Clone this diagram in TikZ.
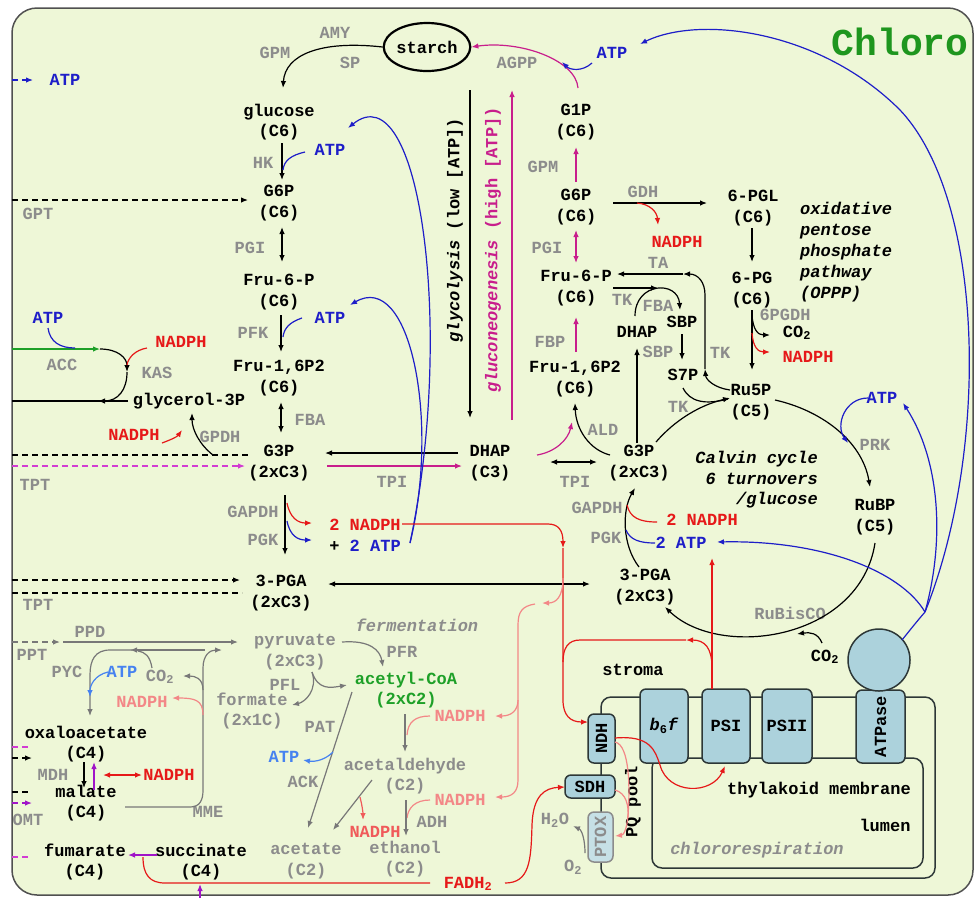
\documentclass[tikz,border=0pt]{standalone}
\usepackage{fontspec}
\setmainfont{Liberation Mono}
\usetikzlibrary{arrows.meta,shapes.geometric}
\definecolor{bg}{RGB}{238,247,215}
\definecolor{fr}{RGB}{80,80,80}
\definecolor{dk}{RGB}{45,55,55}
\definecolor{cb}{RGB}{172,210,220}
\definecolor{cbl}{RGB}{198,224,230}
\definecolor{gr}{RGB}{140,140,140}
\definecolor{gl}{RGB}{120,120,120}
\definecolor{rd}{RGB}{230,25,25}
\definecolor{pk}{RGB}{243,135,135}
\definecolor{pkr}{RGB}{240,90,90}
\definecolor{bl}{RGB}{30,30,200}
\definecolor{lb}{RGB}{70,130,240}
\definecolor{mg}{RGB}{200,30,140}
\definecolor{pur}{RGB}{160,20,200}
\definecolor{tm}{RGB}{210,60,210}
\definecolor{grn}{RGB}{30,160,40}
\definecolor{chg}{RGB}{30,150,30}
\newcommand\ff{\fontsize{17}{20.5}\selectfont\bfseries}
\begin{document}
\begin{tikzpicture}[x=1pt,y=-1pt,>={Latex[length=7pt,width=5.5pt]},
  m/.style={font=\ff, align=center, inner sep=0pt},
  e/.style={font=\ff, text=gr, inner sep=0pt},
  ln/.style={line width=1.2pt},
  a/.style={->, line width=1.2pt},
  ba/.style={<->, line width=1.2pt},
  dsh/.style={dash pattern=on 6pt off 4pt},
  cx/.style={draw=dk, fill=cb, line width=1.5pt, rounded corners=6pt, inner sep=0pt, font=\ff}]
\useasboundingbox (0,0) rectangle (976,898);
\path[fill=bg, draw=fr, line width=1.5pt, rounded corners=25pt] (12,8) rectangle (973,895);
\node[font=\fontsize{38}{40}\selectfont\bfseries, text=chg] (title) at (900,42) {Chloro};
\node[draw, ellipse, line width=2.2pt, minimum width=75pt, minimum height=48pt, inner sep=0pt, font=\ff] (starch) at (427,47) {starch};

% ---------- metabolites ----------
\node[m] (glc) at (279,122) {glucose\\(C6)};
\node[m] (g6p) at (279,203) {G6P\\(C6)};
\node[m] (f6p) at (279,292) {Fru-6-P\\(C6)};
\node[m] (fbp) at (279,378) {Fru-1,6P2\\(C6)};
\node[m] (g3p) at (279,463) {G3P\\(2xC3)};
\node[m] (pga) at (281,593) {3-PGA\\(2xC3)};
\node[m] (dhap) at (490,463) {DHAP\\(C3)};
\node[m] (g1p) at (576,122) {G1P\\(C6)};
\node[m] (g6pr) at (576,207) {G6P\\(C6)};
\node[m] (f6pr) at (576,288) {Fru-6-P\\(C6)};
\node[m] (fbpr) at (575,379) {Fru-1,6P2\\(C6)};
\node[m] (g3pr) at (639,463) {G3P\\(2xC3)};
\node[m] (pgar) at (645,587) {3-PGA\\(2xC3)};
\node[m] (pgl) at (753,208) {6-PGL\\(C6)};
\node[m] (pg) at (752,290) {6-PG\\(C6)};
\node[m] (ru5p) at (751,402) {Ru5P\\(C5)};
\node[m] (rubp) at (875,517) {RuBP\\(C5)};
\node[m] (dhapr) at (637,332) {DHAP};
\node[m] (sbp) at (682,322) {SBP};
\node[m] (s7p) at (683,375) {S7P};
\node[m] (gly) at (189,401) {glycerol-3P};
\node[m, text=gr] (pyr) at (295,652) {pyruvate\\(2xC3)};
\node[m, text=grn] (accoa) at (406,690) {acetyl-CoA\\(2xC2)};
\node[m, text=gr] (form) at (252,711) {formate\\(2x1C)};
\node[m, text=gr] (acald) at (405,776) {acetaldehyde\\(C2)};
\node[m, text=gr] (acet) at (306,861) {acetate\\(C2)};
\node[m, text=gr] (eth) at (405,859) {ethanol\\(C2)};
\node[m] (oaa) at (86,744) {oxaloacetate\\(C4)};
\node[m] (mal) at (86,803) {malate\\(C4)};
\node[m] (fum) at (85,862) {fumarate\\(C4)};
\node[m] (succ) at (201,862) {succinate\\(C4)};

% ---------- enzyme labels ----------
\node[e] (l1) at (275,53) {GPM};
\node[e] (l2) at (335,33) {AMY};
\node[e] (l3) at (350,63) {SP};
\node[e] (l4) at (517,63) {AGPP};
\node[e] (l5) at (263,163) {HK};
\node[e] (l6) at (38,214) {GPT};
\node[e] (l7) at (250,248) {PGI};
\node[e] (l8) at (253,333) {PFK};
\node[e] (l9) at (310,420) {FBA};
\node[e] (l10) at (220,437) {GPDH};
\node[e] (l11) at (157,373) {KAS};
\node[e] (l12) at (62,365) {ACC};
\node[e] (l13) at (35,485) {TPT};
\node[e] (l14) at (392,482) {TPI};
\node[e] (l15) at (253,512) {GAPDH};
\node[e] (l16) at (263,540) {PGK};
\node[e] (l17) at (38,605) {TPT};
\node[e] (l18) at (543,167) {GPM};
\node[e] (l19) at (547,248) {PGI};
\node[e] (l20) at (550,342) {FBP};
\node[e] (l21) at (603,430) {ALD};
\node[e] (l22) at (575,482) {TPI};
\node[e] (l23) at (597,508) {GAPDH};
\node[e] (l24) at (606,538) {PGK};
\node[e] (l25) at (643,192) {GDH};
\node[e] (l26) at (658,263) {TA};
\node[e] (l27) at (622,300) {TK};
\node[e] (l28) at (658,306) {FBA};
\node[e] (l29) at (658,352) {SBP};
\node[e] (l30) at (720,353) {TK};
\node[e] (l31) at (678,407) {TK};
\node[e] (l32) at (785,315) {6PGDH};
\node[e] (l33) at (875,445) {PRK};
\node[e] (l34) at (790,613) {RuBisCO};
\node[e] (l35) at (90,632) {PPD};
\node[e] (l36) at (32,655) {PPT};
\node[e] (l37) at (67,672) {PYC};
\node[e] (l38) at (53,775) {MDH};
\node[e] (l39) at (28,820) {OMT};
\node[e] (l40) at (208,812) {MME};
\node[e] (l41) at (402,652) {PFR};
\node[e] (l42) at (285,685) {PFL};
\node[e] (l43) at (320,727) {PAT};
\node[e] (l44) at (303,782) {ACK};
\node[e] (l45) at (432,822) {ADH};

% ---------- cofactors & notes ----------
\node[m, text=bl] (t1) at (65,80) {ATP};
\node[m, text=bl] (t2) at (330,150) {ATP};
\node[m, text=bl] (t3) at (330,318) {ATP};
\node[m, text=bl] (t4) at (48,318) {ATP};
\node[m, text=rd] (t5) at (181,342) {NADPH};
\node[m, text=rd] (t6) at (134,435) {NADPH};
\node[m, text=rd] (t7) at (365,525) {2 NADPH};
\node[m] (t8) at (365,546) {+ \textcolor{bl}{2 ATP}};
\node[m, text=bl] (t9) at (612,53) {ATP};
\node[m, text=rd] (t10) at (677,242) {NADPH};
\node[m, text=rd] (t11) at (808,357) {NADPH};
\node[m] (t12) at (797,333) {CO\textsubscript{2}};
\node[m, text=bl] (t13) at (882,398) {ATP};
\node[m, text=rd] (t14) at (702,520) {2 NADPH};
\node[m, text=bl] (t15) at (681,543) {2 ATP};
\node[m] (t16) at (825,657) {CO\textsubscript{2}};
\node[m, text=lb] (t17) at (122,672) {ATP};
\node[m, text=gr] (t18) at (160,677) {CO\textsubscript{2}};
\node[m, text=pk] (t19) at (142,702) {NADPH};
\node[m, text=rd] (t20) at (169,775) {NADPH};
\node[m, text=lb] (t21) at (284,757) {ATP};
\node[m, text=pk] (t22) at (460,716) {NADPH};
\node[m, text=pk] (t23) at (460,800) {NADPH};
\node[m, text=pkr] (t24) at (375,832) {NADPH};
\node[m, text=rd] (t25) at (468,884) {FADH\textsubscript{2}};
\node[m, text=gr] (t26) at (555,820) {H\textsubscript{2}O};
\node[m, text=gr] (t27) at (573,867) {O\textsubscript{2}};
\node[m] (t28) at (633,670) {stroma};
\node[m] (t29) at (819,790) {thylakoid membrane};
\node[m] (t30) at (885,825) {lumen};
\node[m, text=gr, font=\ff\itshape] (t31) at (757,850) {chlororespiration};
\node[m, text=gr, font=\ff\itshape] (t32) at (417,625) {fermentation};
\node[m, font=\ff\itshape, align=right, anchor=east] (t33) at (818,480) {Calvin cycle\\6 turnovers\\/glucose};
\node[m, font=\fontsize{17}{21}\selectfont\bfseries\itshape, align=left, anchor=west] (t34) at (800,252) {oxidative\\pentose\\phosphate\\pathway\\(OPPP)};
\node[m, rotate=90] (t35) at (455,230) {\textit{glycolysis} (low [ATP])};
\node[m, rotate=90, text=mg] (t36) at (493,250) {\textit{gluconeogenesis} (high [ATP])};

% ---------- left glycolysis ----------
\draw[a] (starch.west) .. controls (320,40) and (285,55) .. (283,88);
\draw[a] (282,143) -- (282,180);
\draw[ln, bl] (305,152) .. controls (292,155) and (284,160) .. (283,170);
\draw[ba] (282,227) -- (282,262);
\draw[a] (281,315) -- (281,352);
\draw[ln, bl] (302,318) .. controls (290,322) and (284,328) .. (283,337);
\draw[ba] (281,402) -- (281,433);
\draw[a] (285,495) -- (285,555);
\draw[a, rd] (287,503) .. controls (290,518) and (298,523) .. (312,523);
\draw[a, bl] (287,521) .. controls (290,536) and (298,540) .. (312,540);
\draw[a, dsh] (12,200) -- (248,200);
\draw[ln, dsh] (12,455) -- (248,455);
\draw[a, dsh, tm] (12,466) -- (245,466);
\draw[a, dsh] (12,580) -- (240,580);
\draw[ln, dsh] (12,593) -- (242,593);
\draw[a, bl, dsh] (12,80) -- (33,80);
\draw[ba] (328,584) -- (590,584);
\draw[a] (458,453) -- (325,453);
\draw[a, mg] (327,466) -- (462,466);
\draw[a] (470,90) -- (470,418);
\draw[a, mg] (512,420) -- (512,90);
% glycerol
\draw[a] (213,455) .. controls (200,445) and (192,430) .. (192,413);
\draw[a, rd] (162,443) .. controls (170,440) and (177,437) .. (182,430);
\draw[ln] (128,401) -- (12,401);
\draw[a, grn] (12,349) -- (100,349);
\draw[a] (100,349) .. controls (118,349) and (127,358) .. (127,372);
\draw[a] (127,372) .. controls (127,390) and (118,401) .. (98,401);
\draw[ln, bl] (48,328) .. controls (50,342) and (60,348) .. (75,348);
\draw[ln, rd] (147,348) .. controls (135,350) and (128,358) .. (127,365);
% blue ATP returns
\draw[a, bl] (410,543) .. controls (455,330) and (420,70) .. (348,128);
\draw[a, bl] (410,543) .. controls (440,420) and (410,270) .. (350,305);

% ---------- right column ----------
\draw[a, mg] (576,182) -- (576,147);
\draw[ba, mg] (576,230) -- (576,263);
\draw[a, mg] (576,352) -- (576,317);
\draw[a, mg] (578,88) .. controls (576,60) and (520,40) .. (starch.east);
\draw[a, bl] (592,63) .. controls (582,72) and (570,70) .. (562,62);
\draw[a] (610,455) .. controls (590,450) and (576,430) .. (575,403);
\draw[a, mg] (537,455) .. controls (555,452) and (568,440) .. (572,422);
\draw[ba] (550,462) -- (597,462);
\draw[a] (639,567) .. controls (622,545) and (622,510) .. (635,488);
\draw[ln, rd] (627,505) .. controls (630,518) and (640,522) .. (657,522);
\draw[ln, bl] (626,530) .. controls (630,540) and (640,543) .. (655,543);
\draw[a] (637,443) -- (637,348);
\draw[a] (613,288) -- (658,288);
\draw[a] (635,316) .. controls (635,282) and (678,280) .. (680,310);
\draw[a] (682,334) -- (682,360);
\draw[a] (730,390) .. controls (715,388) and (706,380) .. (705,369);
\draw[a] (705,369) -- (705,295) .. controls (705,282) and (698,274) .. (683,274);
\draw[a] (683,274) -- (617,274);
\draw[ln] (683,388) .. controls (690,402) and (705,405) .. (728,399);
\draw[a] (656,442) .. controls (675,420) and (700,405) .. (730,398);
% OPPP
\draw[a] (613,203) -- (707,203);
\draw[a, rd] (637,203) .. controls (650,204) and (657,212) .. (658,225);
\draw[a] (752,228) -- (752,262);
\draw[a] (752,310) -- (752,370);
\draw[a] (752,315) .. controls (753,330) and (758,335) .. (770,335);
\draw[a, rd] (752,333) .. controls (753,347) and (758,352) .. (770,352);
% Calvin
\draw[a] (775,400) .. controls (820,410) and (862,440) .. (870,487);
\draw[a, bl] (868,398) .. controls (845,398) and (835,425) .. (848,443);
\draw[a] (875,543) .. controls (860,640) and (720,660) .. (665,607);
\draw[a] (822,643) .. controls (818,633) and (810,632) .. (797,634);

% ---------- membrane ----------
\draw[line width=1.5pt, draw=dk, rounded corners=10pt] (601,697) rectangle (935,878);
\draw[line width=1.5pt, draw=dk, rounded corners=10pt] (652,758) rectangle (923,868);
\node[cx, minimum width=48pt, minimum height=74pt] (b6f) at (664,726) {\textit{b}\textsubscript{6}\textit{f}};
\node[cx, minimum width=48pt, minimum height=74pt] (psi) at (726,726) {PSI};
\node[cx, minimum width=50pt, minimum height=74pt] (psii) at (787,726) {PSII};
\node[cx, minimum width=73pt, minimum height=49pt, rotate=90] (atpase) at (880.5,726.5) {ATPase};
\node[circle, draw=dk, fill=cb, line width=1.5pt, minimum size=62pt, inner sep=0pt] (head) at (879,660) {};
\node[cx, minimum width=49pt, minimum height=27pt, rotate=90] (ndh) at (601.5,738.5) {NDH};
\node[cx, minimum width=50pt, minimum height=23pt] (sdh) at (590,786.5) {SDH};
\node[cx, draw=gr, fill=cbl, text=gr, minimum width=50pt, minimum height=25pt, rotate=90] (ptox) at (600.5,837) {PTOX};
\node[m, rotate=90] (pq) at (633,802) {PQ pool};

% blue from ATPase
\draw[ln, bl] (902,640) .. controls (910,630) and (918,620) .. (925,612);
\draw[a, bl] (925,612) .. controls (990,450) and (985,200) .. (900,110) .. controls (820,30) and (700,15) .. (640,44);
\draw[a, bl] (925,612) .. controls (945,540) and (940,460) .. (903,403);
\draw[a, bl] (925,612) .. controls (900,570) and (820,540) .. (717,542);

% red electron flows
\draw[a, rd] (402,524) -- (548,524) .. controls (558,524) and (563,530) .. (563,548);
\draw[a, rd] (563,548) -- (563,700) .. controls (563,715) and (570,722) .. (588,722);
\draw[a, rd] (712,689) -- (712,558);
\draw[a, rd] (712,668) .. controls (712,648) and (705,640) .. (686,640);
\draw[ln, rd] (686,640) -- (580,640) .. controls (568,640) and (563,648) .. (563,662);
\draw[a, rd] (615,738) .. controls (650,735) and (655,750) .. (660,765) .. controls (668,795) and (712,795) .. (725,766);
\draw[ln, rd] (143,857) .. controls (143,875) and (150,883) .. (165,883) -- (430,883);
\draw[a, rd] (505,883) .. controls (530,883) and (531,860) .. (532,825) .. controls (533,795) and (545,788) .. (565,787);
% pink
\draw[a, pk] (563,578) .. controls (563,597) and (556,603) .. (542,603);
\draw[a, pk] (535,604) .. controls (522,606) and (518,612) .. (518,625) -- (518,700) .. controls (518,710) and (512,716) .. (495,716);
\draw[a, pk] (518,700) -- (518,780) .. controls (518,792) and (512,797) .. (495,797);
\draw[ln, pk] (430,716) .. controls (415,716) and (408,722) .. (407,735);
\draw[ln, pk] (430,800) .. controls (415,800) and (408,808) .. (407,818);
\draw[a, pk] (615,742) .. controls (630,745) and (630,790) .. (628,815) .. controls (627,828) and (624,835) .. (615,836);
\draw[ln, pk] (615,790) .. controls (626,793) and (629,805) .. (628,818);
\draw[a, gl] (585,853) .. controls (585,840) and (582,830) .. (573,826);

% ---------- fermentation ----------
\draw[a, gl] (342,642) .. controls (370,640) and (380,650) .. (383,667);
\draw[a, gl] (312,672) .. controls (318,690) and (330,688) .. (347,685);
\draw[a, gl] (312,672) .. controls (318,690) and (305,702) .. (292,705);
\draw[a, gl] (352,692) -- (308,828);
\draw[a, lb] (333,752) .. controls (325,760) and (315,762) .. (303,760);
\draw[a, gl] (405,714) -- (405,752);
\draw[a, gl] (372,780) -- (333,830);
\draw[a, gl] (406,800) -- (406,836);
\draw[a, pkr] (360,797) .. controls (362,805) and (363,812) .. (363,820);

% ---------- left bottom ----------
\draw[a, gl, dsh] (12,642) -- (60,642);
\draw[a, gl] (63,642) -- (238,642);
\draw[a, gl] (205,650) -- (130,650);
\draw[a, gl] (132,650) -- (110,650) .. controls (95,650) and (90,660) .. (90,675) -- (90,716);
\draw[ln, gl] (152,668) .. controls (150,656) and (145,652) .. (138,651);
\draw[a, lb] (108,672) .. controls (95,675) and (90,685) .. (90,697);
\draw[a, gl] (125,807) -- (190,807) .. controls (200,807) and (203,800) .. (203,790) -- (203,668) .. controls (203,655) and (210,650) .. (222,650);
\draw[a, gl] (203,690) .. controls (203,678) and (195,676) .. (183,676);
\draw[a, pk] (203,715) .. controls (203,700) and (195,698) .. (172,698);
\draw[a] (84,762) -- (84,788);
\draw[a, pur] (94,790) -- (94,762);
\draw[ba, rd] (103,775) -- (142,775);
\draw[ln, tm, dsh] (12,747) -- (30,747);
\draw[a, dsh] (12,758) -- (32,758);
\draw[ln, dsh] (12,792) -- (30,792);
\draw[a, pur, dsh] (12,803) -- (32,803);
\draw[ln, tm, dsh] (12,857) -- (30,857);
\draw[a, pur] (157,855) -- (128,855);
\draw[a, pur] (200,898) -- (200,884);
\end{tikzpicture}
\end{document}
